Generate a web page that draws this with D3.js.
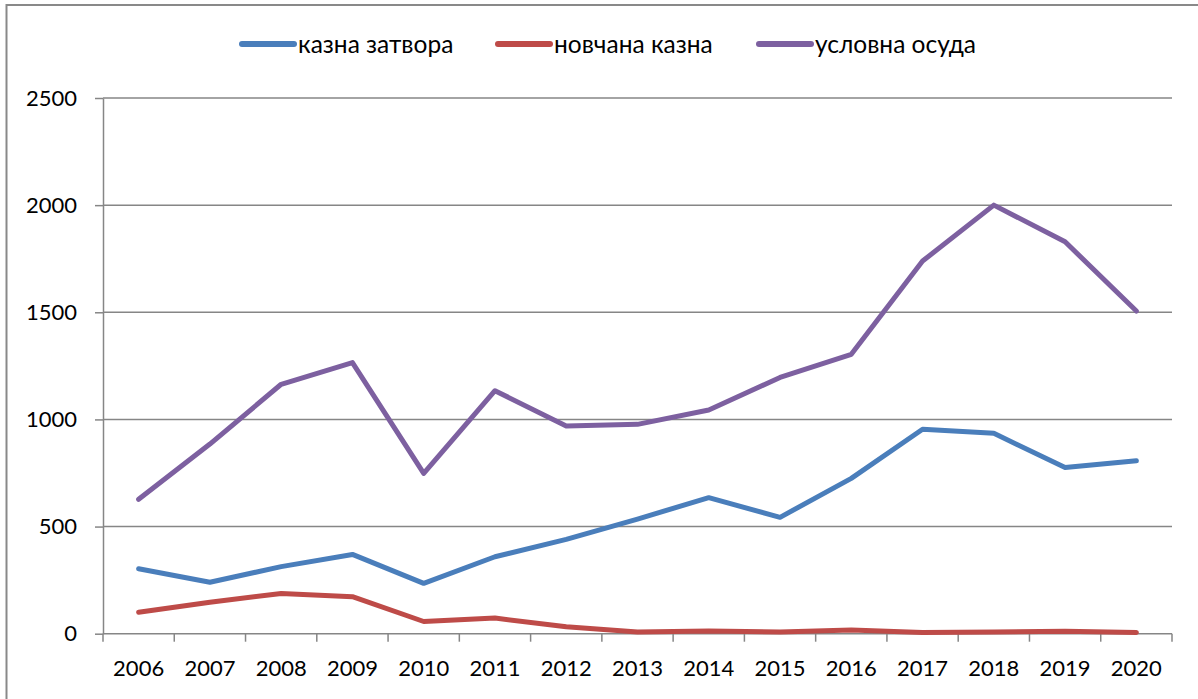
<!DOCTYPE html>
<html>
<head>
<meta charset="utf-8">
<script src="https://cdn.jsdelivr.net/npm/d3@7"></script>
<style>
  body { margin: 0; background: #fff; }
  svg { display: block; font-family: Lato, "Noto Sans", sans-serif; }
</style>
</head>
<body>
<div id="chart"></div>
<script>
// Années
const years = ["2006", "2007", "2008", "2009", "2010", "2011", "2012", "2013",
  "2014", "2015", "2016", "2017", "2018", "2019", "2020"];

// Séries
const kaznaZatvora = [303, 240, 313, 370, 235, 359, 440, 535, 635, 543, 725, 954, 935, 776, 807];
const novcanaKazna = [100, 147, 188, 173, 57, 73, 32, 8, 13, 8, 17, 6, 8, 12, 6];
const uslovnaOsuda = [627, 885, 1164, 1265, 748, 1134, 969, 977, 1044, 1196, 1304, 1739, 2000, 1829, 1506];

const yTicks = [0, 500, 1000, 1500, 2000, 2500];

const series = [
  { name: "казна затвора", values: kaznaZatvora, color: "#4A7EBB" },
  { name: "новчана казна", values: novcanaKazna, color: "#BE4B48" },
  { name: "условна осуда", values: uslovnaOsuda, color: "#7D60A0" }
];

const width = 1198, height = 699;
const plotLeft = 103, plotRight = 1172, plotTop = 98, plotBottom = 633.7;

const svg = d3.select("#chart").append("svg")
  .attr("width", width)
  .attr("height", height);

// cadre
svg.append("rect")
  .attr("x", 6.5).attr("y", 5)
  .attr("width", 1200).attr("height", 700)
  .attr("fill", "#fff")
  .attr("stroke", "#898989")
  .attr("stroke-width", 2);

const x = d3.scaleBand().domain(years).range([plotLeft, plotRight]);
const y = d3.scaleLinear().domain([0, 2500]).range([plotBottom, plotTop]);

// grille
svg.selectAll("line.grid")
  .data(yTicks.filter(d => d > 0))
  .enter()
  .append("line")
  .attr("class", "grid")
  .attr("x1", plotLeft).attr("x2", plotRight)
  .attr("y1", d => y(d)).attr("y2", d => y(d))
  .attr("stroke", "#868686")
  .attr("stroke-width", 1.5);

// axe Y
const yAxis = svg.append("g")
  .attr("transform", `translate(${plotLeft},0)`)
  .call(d3.axisLeft(y).tickValues(yTicks).tickFormat(d3.format("d"))
    .tickSize(8).tickSizeOuter(0).tickPadding(18));
yAxis.select(".domain").attr("stroke", "#868686").attr("stroke-width", 1.5);
yAxis.selectAll(".tick line").attr("stroke", "#868686").attr("stroke-width", 1.5);
yAxis.selectAll(".tick text")
  .attr("font-size", 22)
  .attr("fill", "#000")
  .style("font-family", "Lato, 'Noto Sans', sans-serif");

// axe X
svg.append("line")
  .attr("x1", plotLeft).attr("x2", plotRight)
  .attr("y1", plotBottom).attr("y2", plotBottom)
  .attr("stroke", "#868686").attr("stroke-width", 1.5);

const xTickPos = years.map(d => x(d)).concat([x(years[years.length - 1]) + x.bandwidth()]);
svg.selectAll("line.xtick")
  .data(xTickPos)
  .enter()
  .append("line")
  .attr("class", "xtick")
  .attr("x1", d => d).attr("x2", d => d)
  .attr("y1", plotBottom).attr("y2", plotBottom + 8)
  .attr("stroke", "#868686").attr("stroke-width", 1.5);

svg.selectAll("text.xlabel")
  .data(years)
  .enter()
  .append("text")
  .attr("class", "xlabel")
  .attr("x", d => x(d) + x.bandwidth() / 2)
  .attr("y", 676)
  .attr("text-anchor", "middle")
  .attr("font-size", 22)
  .attr("fill", "#000")
  .text(d => d);

// lignes
const line = d3.line()
  .x((d, i) => x(years[i]) + x.bandwidth() / 2)
  .y(d => y(d));

svg.selectAll("path.serie")
  .data(series)
  .enter()
  .append("path")
  .attr("class", "serie")
  .attr("d", d => line(d.values))
  .attr("fill", "none")
  .attr("stroke", d => d.color)
  .attr("stroke-width", 5)
  .attr("stroke-linejoin", "round")
  .attr("stroke-linecap", "round");

// légende
const legendX = [242, 498, 759];
const legend = svg.selectAll("g.legend")
  .data(series)
  .enter()
  .append("g")
  .attr("class", "legend")
  .attr("transform", (d, i) => `translate(${legendX[i]},44)`);

legend.append("line")
  .attr("x1", 0).attr("x2", 52)
  .attr("y1", 0).attr("y2", 0)
  .attr("stroke", d => d.color)
  .attr("stroke-width", 6)
  .attr("stroke-linecap", "round");

legend.append("text")
  .attr("x", 56)
  .attr("y", 9)
  .attr("font-size", 24.5)
  .attr("fill", "#000")
  .text(d => d.name);
</script>
</body>
</html>
